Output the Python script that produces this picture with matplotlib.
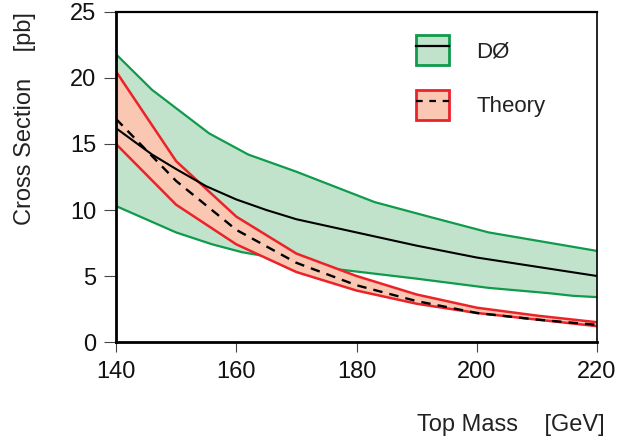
import matplotlib
matplotlib.use('Agg')
import matplotlib.pyplot as plt
from matplotlib.patches import Patch
from matplotlib.lines import Line2D
import numpy as np

plt.rcParams['font.family'] = ['Liberation Sans', 'DejaVu Sans']

d0_up_mass = [140, 146, 155.5, 162, 170, 183, 192, 202, 211, 220]
d0_up = [21.8, 19.1, 15.8, 14.2, 12.9, 10.6, 9.5, 8.3, 7.6, 6.9]
d0_lo_mass = [140, 150, 156, 161, 170, 177, 190, 202, 212, 216, 220]
d0_lo = [10.3, 8.3, 7.4, 6.8, 6.1, 5.5, 4.8, 4.1, 3.7, 3.5, 3.4]
d0_mass = [140, 143, 146, 150, 155, 160, 165, 170, 175, 180, 190, 200, 210, 220]
d0_mid = [16.2, 15.2, 14.2, 13.1, 11.8, 10.8, 10.0, 9.3, 8.8, 8.3, 7.3, 6.4, 5.7, 5.0]

# Theory band
th_mass = [140, 150, 160, 170, 180, 190, 200, 210, 220]
th_up = [20.5, 13.7, 9.5, 6.7, 5.0, 3.6, 2.6, 2.0, 1.5]
th_lo = [15.0, 10.4, 7.4, 5.3, 3.9, 2.9, 2.2, 1.7, 1.2]
th_mid = [16.9, 12.2, 8.5, 6.0, 4.3, 3.1, 2.2, 1.7, 1.3]

green_line = '#0f9a4c'
green_fill = '#c1e3cc'
red_line = '#ec2229'
red_fill = '#f9c7b2'

fig = plt.figure(figsize=(6.19, 4.42), dpi=100)
ax = fig.add_axes([0.1874, 0.2262, 0.9645 - 0.1874, 0.9729 - 0.2262])

# green band: fill between edges on a common grid
grid = np.union1d(d0_up_mass, d0_lo_mass)
ax.fill_between(grid, np.interp(grid, d0_lo_mass, d0_lo), np.interp(grid, d0_up_mass, d0_up),
                color=green_fill, lw=0, zorder=1)
ax.plot(d0_up_mass, d0_up, color=green_line, lw=1.6, zorder=2)
ax.plot(d0_lo_mass, d0_lo, color=green_line, lw=1.6, zorder=2)

# red band drawn on top
ax.fill_between(th_mass, th_lo, th_up, color=red_fill, lw=0, zorder=3)
ax.plot(th_mass, th_up, color=red_line, lw=1.8, zorder=4)
ax.plot(th_mass, th_lo, color=red_line, lw=1.8, zorder=4)
ax.plot(th_mass, th_mid, color='black', lw=1.7, ls=(0, (4, 3)), zorder=5)

ax.plot(d0_mass, d0_mid, color='black', lw=1.5, zorder=6)

ax.set_xlim(140, 220)
ax.set_ylim(0, 25)
ax.set_xticks([140, 160, 180, 200, 220])
ax.set_yticks([0, 5, 10, 15, 20, 25])
ax.tick_params(direction='out', length=9, width=0.8, color='#444444',
               labelsize=17, labelcolor='#111111')
ax.tick_params(axis='y', pad=5)
ax.tick_params(axis='x', pad=7, length=7)
for side, w in [('left', 2.0), ('bottom', 2.0), ('top', 1.6), ('right', 1.2)]:
    ax.spines[side].set_linewidth(w)
    ax.spines[side].set_zorder(10)

fig.text(0.977, 0.038, 'Top Mass    [GeV]', ha='right', va='center', fontsize=17, color='#222222')
fig.text(0.040, 0.973, 'Cross Section    [pb]', ha='center', va='top', rotation=90,
         fontsize=17, color='#222222')

handles = [(Patch(facecolor=green_fill, edgecolor=green_line, lw=2),
            Line2D([], [], color='black', lw=1.6)),
           (Patch(facecolor=red_fill, edgecolor=red_line, lw=2),
            Line2D([], [], color='black', lw=1.6, ls=(0, (3, 3))))]
ax.legend(handles, ['DØ', 'Theory'], loc='upper left', bbox_to_anchor=(0.624, 0.93),
          frameon=False, fontsize=16, handlelength=1.5, handleheight=1.7,
          handletextpad=1.2, labelspacing=1.1, borderpad=0, borderaxespad=0,
          labelcolor='#222222')

fig.savefig('out.png', dpi=100)
